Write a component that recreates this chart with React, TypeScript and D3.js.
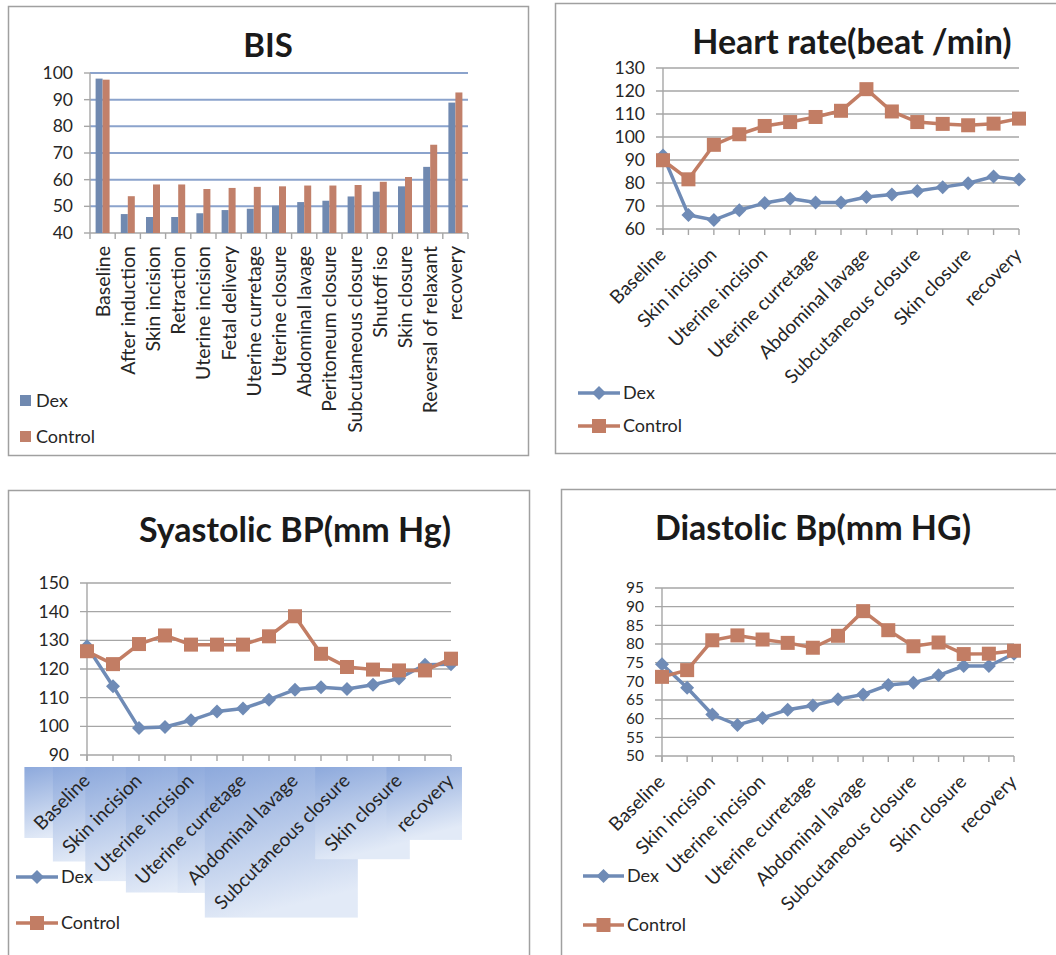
import React, { useRef, useEffect } from 'react';
import * as d3 from 'd3';

const categories = ["Baseline", "After induction", "Skin incision", "Retraction", "Uterine incision", "Fetal delivery", "Uterine curretage", "Uterine closure", "Abdominal lavage", "Peritoneum closure", "Subcutaneous closure", "Shutoff iso", "Skin closure", "Reversal of relaxant", "recovery"];
const seriesNames = ["Dex", "Control"];

const bisDex = [97.9, 47.1, 46.0, 46.0, 47.4, 48.6, 49.1, 50.2, 51.6, 52.1, 53.7, 55.5, 57.5, 64.8, 88.9];
const bisControl = [97.5, 53.8, 58.2, 58.2, 56.5, 56.9, 57.3, 57.5, 57.8, 57.8, 58.0, 59.2, 61.0, 73.1, 92.7];
const bisTicks = [40, 50, 60, 70, 80, 90, 100];

const hrDex = [92.0, 66.1, 63.9, 68.2, 71.3, 73.2, 71.5, 71.5, 73.9, 75.0, 76.5, 78.2, 79.9, 82.8, 81.5];
const hrControl = [89.9, 81.6, 96.6, 101.2, 104.8, 106.5, 108.7, 111.4, 120.8, 111.1, 106.5, 105.7, 105.1, 105.8, 108.0];
const hrTicks = [60, 70, 80, 90, 100, 110, 120, 130];

const sbpDex = [127.9, 114.0, 99.4, 99.8, 102.1, 105.2, 106.2, 109.3, 112.8, 113.6, 113.0, 114.5, 116.7, 121.5, 121.7];
const sbpControl = [126.2, 121.7, 128.7, 131.7, 128.5, 128.5, 128.5, 131.4, 138.4, 125.3, 120.7, 119.8, 119.5, 119.5, 123.6];
const sbpTicks = [90, 100, 110, 120, 130, 140, 150];

const dbpDex = [74.6, 68.3, 61.1, 58.3, 60.2, 62.4, 63.5, 65.2, 66.5, 69.0, 69.6, 71.6, 74.1, 74.1, 77.4];
const dbpControl = [71.2, 73.0, 81.0, 82.3, 81.2, 80.3, 79.0, 82.2, 88.8, 83.7, 79.4, 80.4, 77.3, 77.4, 78.2];
const dbpTicks = [50, 55, 60, 65, 70, 75, 80, 85, 90, 95];

const FONT = "Lato, 'Open Sans', sans-serif";
const DEX_BAR = "#7089B0";
const CTL_BAR = "#C1806A";
const DEX_LINE = "#6F8BB6";
const CTL_LINE = "#C27D64";
const TXT = "#262626";
const GRID = "#A6A6A6";
const TICK_FS = 17.5;
const CAT_FS = 19;
const LEG_FS = 18;
const TITLE_FS = 34;

type LineCfg = {
  x0: number; x1: number; yTop: number; yBot: number;
  ticks: number[]; labelRight: number; tickFs: number;
  dex: number[]; control: number[];
  title: string; titleX: number; titleY: number;
  legX1: number; legX2: number; legY1: number; legY2: number; legTextX: number;
  boxes?: boolean;
};

function drawDiamond(g: any, cx: number, cy: number, r: number, fill: string) {
  g.append('path').attr('d', `M${cx},${cy - r}L${cx + r},${cy}L${cx},${cy + r}L${cx - r},${cy}Z`).attr('fill', fill);
}
function drawSquare(g: any, cx: number, cy: number, s: number, fill: string) {
  g.append('rect').attr('x', cx - s / 2).attr('y', cy - s / 2).attr('width', s).attr('height', s).attr('fill', fill);
}

function drawLineChart(svg: any, c: LineCfg, svgEl: SVGSVGElement) {
  const g = svg.append('g');
  const y = d3.scaleLinear().domain([c.ticks[0], c.ticks[c.ticks.length - 1]]).range([c.yBot, c.yTop]);
  const x = d3.scalePoint<string>().domain(categories).range([c.x0, c.x1]);

  g.append('text').attr('x', c.titleX).attr('y', c.titleY).attr('text-anchor', 'middle')
    .attr('font-family', FONT).attr('font-weight', 'bold').attr('font-size', TITLE_FS).attr('fill', '#1a1a1a').text(c.title);

  c.ticks.forEach((t) => {
    g.append('line').attr('x1', c.x0 - 7).attr('x2', c.x1).attr('y1', y(t)).attr('y2', y(t))
      .attr('stroke', GRID).attr('stroke-width', 1.4);
    g.append('text').attr('x', c.labelRight).attr('y', y(t)).attr('dy', '0.35em').attr('text-anchor', 'end')
      .attr('font-family', FONT).attr('font-size', c.tickFs).attr('fill', TXT).text(String(t));
  });
  g.append('line').attr('x1', c.x0).attr('x2', c.x0).attr('y1', c.yTop).attr('y2', c.yBot + 6)
    .attr('stroke', GRID).attr('stroke-width', 1.4);
  categories.forEach((cat) => {
    g.append('line').attr('x1', x(cat)).attr('x2', x(cat)).attr('y1', c.yBot).attr('y2', c.yBot + 6)
      .attr('stroke', GRID).attr('stroke-width', 1.4);
  });

  const boxG = g.append('g');
  const labG = g.append('g');
  const shown = categories.filter((_, i) => i % 2 === 0);
  shown.forEach((cat) => {
    const ax = (x(cat) as number) + 4;
    const ay = c.yBot + 27;
    const t = labG.append('text').attr('transform', `translate(${ax},${ay}) rotate(-45)`).attr('text-anchor', 'end')
      .attr('font-family', FONT).attr('font-size', CAT_FS).attr('fill', TXT).text(cat);
    if (c.boxes) {
      const sr = svgEl.getBoundingClientRect();
      const br = (t.node() as SVGTextElement).getBoundingClientRect();
      const bx = br.left - sr.left - 4;
      const by = c.yBot + 12;
      const bw = br.width + 8;
      const bh = br.bottom - sr.top + 4 - by;
      boxG.append('rect').attr('x', bx).attr('y', by).attr('width', bw).attr('height', bh)
        .attr('fill', 'url(#lblGrad)');
    }
  });

  const line = d3.line<number>().x((_, i) => x(categories[i]) as number).y((d) => y(d));
  g.append('path').attr('d', line(c.dex)).attr('fill', 'none').attr('stroke', DEX_LINE).attr('stroke-width', 3.5);
  c.dex.forEach((v, i) => drawDiamond(g, x(categories[i]) as number, y(v), 7, DEX_LINE));
  g.append('path').attr('d', line(c.control)).attr('fill', 'none').attr('stroke', CTL_LINE).attr('stroke-width', 3.5);
  c.control.forEach((v, i) => drawSquare(g, x(categories[i]) as number, y(v), 14, CTL_LINE));

  const leg = [
    { name: seriesNames[0], y: c.legY1, col: DEX_LINE, mk: 'd' },
    { name: seriesNames[1], y: c.legY2, col: CTL_LINE, mk: 's' },
  ];
  leg.forEach((l) => {
    g.append('line').attr('x1', c.legX1).attr('x2', c.legX2).attr('y1', l.y).attr('y2', l.y)
      .attr('stroke', l.col).attr('stroke-width', 3.5);
    const mx = (c.legX1 + c.legX2) / 2;
    if (l.mk === 'd') drawDiamond(g, mx, l.y, 7, l.col); else drawSquare(g, mx, l.y, 14, l.col);
    g.append('text').attr('x', c.legTextX).attr('y', l.y).attr('dy', '0.35em')
      .attr('font-family', FONT).attr('font-size', LEG_FS).attr('fill', TXT).text(l.name);
  });
}

function drawBars(svg: any) {
  const g = svg.append('g');
  const x0 = 90, x1 = 468, yTop = 73, yBot = 233;
  const y = d3.scaleLinear().domain([bisTicks[0], bisTicks[bisTicks.length - 1]]).range([yBot, yTop]);
  const x = d3.scaleBand<string>().domain(categories).range([x0, x1]);
  const xs = d3.scaleBand<string>().domain(seriesNames).range([0, x.bandwidth()]).paddingOuter(0.8);

  g.append('text').attr('x', 268).attr('y', 57).attr('text-anchor', 'middle')
    .attr('font-family', FONT).attr('font-weight', 'bold').attr('font-size', 33).attr('fill', '#1a1a1a').text('BIS');

  bisTicks.forEach((t) => {
    if (t !== bisTicks[0]) {
      g.append('line').attr('x1', x0).attr('x2', x1).attr('y1', y(t)).attr('y2', y(t))
        .attr('stroke', '#8BA3CC').attr('stroke-width', 2);
    }
    g.append('line').attr('x1', x0 - 6).attr('x2', x0).attr('y1', y(t)).attr('y2', y(t))
      .attr('stroke', GRID).attr('stroke-width', 1.4);
    g.append('text').attr('x', 73).attr('y', y(t)).attr('dy', '0.35em').attr('text-anchor', 'end')
      .attr('font-family', FONT).attr('font-size', TICK_FS).attr('fill', TXT).text(String(t));
  });
  g.append('line').attr('x1', x0).attr('x2', x0).attr('y1', yTop).attr('y2', yBot)
    .attr('stroke', GRID).attr('stroke-width', 1.4);
  g.append('line').attr('x1', x0).attr('x2', x1).attr('y1', yBot).attr('y2', yBot)
    .attr('stroke', GRID).attr('stroke-width', 1.4);
  d3.range(categories.length + 1).forEach((i) => {
    const xx = x0 + i * x.step();
    g.append('line').attr('x1', xx).attr('x2', xx).attr('y1', yBot).attr('y2', yBot + 6)
      .attr('stroke', GRID).attr('stroke-width', 1.4);
  });

  const vals = [bisDex, bisControl];
  const cols = [DEX_BAR, CTL_BAR];
  categories.forEach((cat, i) => {
    seriesNames.forEach((s, k) => {
      const v = vals[k][i];
      g.append('rect').attr('x', (x(cat) as number) + (xs(s) as number)).attr('y', y(v))
        .attr('width', xs.bandwidth()).attr('height', yBot - y(v)).attr('fill', cols[k]);
    });
    const cx = (x(cat) as number) + x.bandwidth() / 2 + 7;
    g.append('text').attr('transform', `translate(${cx},${yBot + 13}) rotate(-90)`).attr('text-anchor', 'end')
      .attr('font-family', FONT).attr('font-size', 19.5).attr('fill', TXT).text(cat);
  });

  const leg = [{ n: seriesNames[0], y: 401, c: DEX_BAR }, { n: seriesNames[1], y: 437, c: CTL_BAR }];
  leg.forEach((l) => {
    g.append('rect').attr('x', 20).attr('y', l.y - 6).attr('width', 11).attr('height', 11).attr('fill', l.c);
    g.append('text').attr('x', 36).attr('y', l.y).attr('dy', '0.35em')
      .attr('font-family', FONT).attr('font-size', LEG_FS).attr('fill', TXT).text(l.n);
  });
}

export default function App() {
  const ref = useRef<SVGSVGElement>(null);
  useEffect(() => {
    document.body.style.margin = '0';
    const el = ref.current as SVGSVGElement;
    const svg = d3.select(el);
    svg.selectAll('*').remove();
    const defs = svg.append('defs');
    const gr = defs.append('linearGradient').attr('id', 'lblGrad').attr('x1', 0).attr('y1', 0).attr('x2', 0.25).attr('y2', 1);
    gr.append('stop').attr('offset', 0).attr('stop-color', '#8DA9DC');
    gr.append('stop').attr('offset', 1).attr('stop-color', '#E2EAF7');

    svg.append('rect').attr('width', 1056).attr('height', 955).attr('fill', '#fff');
    const border = (x: number, y: number, w: number, h: number) =>
      svg.append('rect').attr('x', x).attr('y', y).attr('width', w).attr('height', h)
        .attr('fill', 'none').attr('stroke', '#A0A0A0').attr('stroke-width', 1.5);
    border(8.5, 6.5, 520, 449);
    border(555.5, 3.5, 520, 450);
    border(8.5, 490.5, 521, 490);
    border(561.5, 489.5, 520, 490);

    drawBars(svg);
    drawLineChart(svg, {
      x0: 663, x1: 1019, yTop: 68, yBot: 229, ticks: hrTicks, labelRight: 645, tickFs: TICK_FS,
      dex: hrDex, control: hrControl, title: 'Heart rate(beat /min)', titleX: 852, titleY: 54,
      legX1: 578, legX2: 620, legY1: 393, legY2: 426, legTextX: 623,
    }, el);
    drawLineChart(svg, {
      x0: 87, x1: 451, yTop: 583, yBot: 755, ticks: sbpTicks, labelRight: 69, tickFs: TICK_FS,
      dex: sbpDex, control: sbpControl, title: 'Syastolic BP(mm Hg)', titleX: 295, titleY: 542,
      legX1: 16, legX2: 58, legY1: 877, legY2: 923, legTextX: 61, boxes: true,
    }, el);
    drawLineChart(svg, {
      x0: 662, x1: 1014, yTop: 588, yBot: 756, ticks: dbpTicks, labelRight: 644, tickFs: 15.5,
      dex: dbpDex, control: dbpControl, title: 'Diastolic Bp(mm HG)', titleX: 813, titleY: 540,
      legX1: 583, legX2: 624, legY1: 876, legY2: 925, legTextX: 627,
    }, el);
  }, []);
  return <svg ref={ref} width={1056} height={955} style={{ display: 'block' }} />;
}
